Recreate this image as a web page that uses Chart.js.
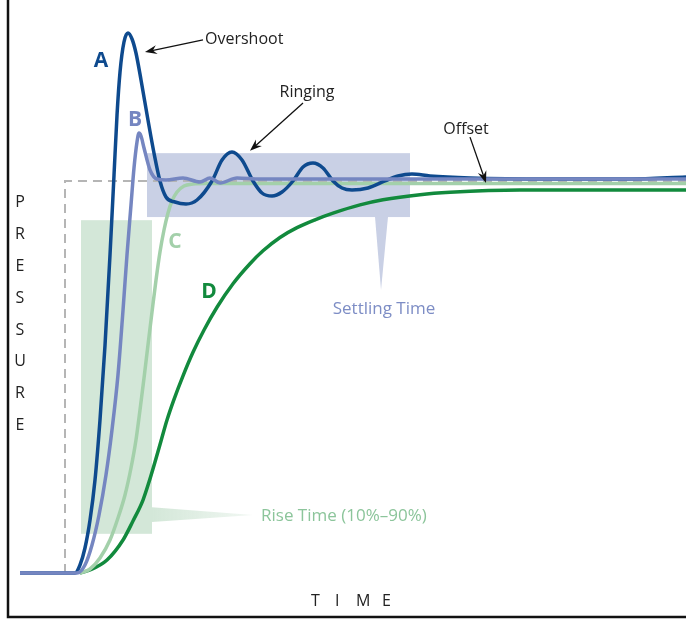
<!DOCTYPE html>
<html lang="en">
<head>
    <meta charset="UTF-8">
    <title>Pressure response</title>
    <script src="https://cdn.jsdelivr.net/npm/chart.js"></script>
    <style>
        body {
            margin: 0;
            padding: 0;
            background-color: #fff;
        }
        #chart {
            display: block;
        }
    </style>
</head>
<body>
    <canvas id="chart" width="686" height="619"></canvas>
    <script>
        // time: 0 = pressure step, pressure: 0 = start, 1 = setpoint
        const curveA = [
            [-7.5, 0], [1.67, 0], [2.5, 0.0204], [3.33, 0.0638], [4.17, 0.1352], [5.0, 0.2372],
            [5.83, 0.3903], [6.67, 0.5816], [7.5, 0.8112], [8.17, 1.0153], [8.67, 1.1684], [9.17, 1.2781],
            [9.83, 1.3546], [10.5, 1.3776], [11.17, 1.3622], [11.83, 1.3265], [12.67, 1.2577], [13.83, 1.1556],
            [14.83, 1.0714], [15.83, 1.0], [16.83, 0.9592], [18.33, 0.9464], [20.17, 0.9413], [22.0, 0.9515],
            [24.5, 1.0], [26.17, 1.0536], [27.83, 1.074], [29.5, 1.0536], [31.33, 1.0], [32.83, 0.9694],
            [34.5, 0.9617], [36.17, 0.9719], [38.0, 1.0], [39.67, 1.0357], [41.33, 1.0459], [43.0, 1.0332],
            [44.67, 1.0], [46.17, 0.9821], [47.83, 0.977], [50.5, 0.9821], [53.33, 1.0], [55.5, 1.0128],
            [57.83, 1.0179], [60.83, 1.0128], [67.5, 1.0077], [80.83, 1.0051], [94.17, 1.0051], [103.5, 1.0102]
        ];
        const curveB = [
            [-7.5, 0], [2.0, 0], [3.33, 0.0204], [4.5, 0.0714], [5.67, 0.148], [6.83, 0.25],
            [7.83, 0.3648], [8.83, 0.5051], [9.67, 0.6709], [10.33, 0.8112], [11.0, 0.9388], [11.5, 1.0332],
            [12.0, 1.0995], [12.33, 1.1224], [12.67, 1.1148], [13.17, 1.0842], [14.17, 1.0281], [15.33, 1.0051],
            [16.83, 1.0026], [19.67, 1.0077], [22.5, 0.9974], [24.17, 1.0077], [25.83, 0.9949], [28.67, 1.0077],
            [32.5, 1.0051], [103.5, 1.0051]
        ];
        const curveC = [
            [2.5, 0], [4.17, 0.0102], [5.83, 0.0383], [7.5, 0.0842], [8.83, 0.1403], [10.0, 0.199],
            [11.0, 0.2679], [11.83, 0.3393], [12.5, 0.4158], [13.17, 0.4974], [13.83, 0.5816], [14.5, 0.6658],
            [15.17, 0.7474], [15.83, 0.8189], [16.5, 0.875], [17.17, 0.9184], [17.83, 0.949], [18.67, 0.9719],
            [19.83, 0.9872], [21.33, 0.9923], [23.33, 0.9936], [103.5, 0.9936]
        ];
        const curveD = [
            [2.5, 0], [4.17, 0.0077], [7.0, 0.0332], [9.67, 0.0842], [11.33, 0.1327], [13.0, 0.1862],
            [14.0, 0.2321], [15.0, 0.2832], [16.0, 0.3367], [17.0, 0.3903], [18.17, 0.443], [19.67, 0.503],
            [21.33, 0.563], [23.17, 0.62], [25.33, 0.678], [28.0, 0.738], [30.83, 0.789], [33.0, 0.822],
            [35.83, 0.856], [38.67, 0.881], [41.67, 0.901], [44.67, 0.918], [49.17, 0.939], [53.0, 0.952],
            [59.17, 0.965], [64.17, 0.971], [75.83, 0.977], [103.5, 0.977]
        ];
        const stepLine = [[0, 0], [0, 1], [103.5, 1]];

        const curveLabels = ['A', 'B', 'C', 'D'];
        const riseBand = { t0: 2.67, t1: 14.5, p0: 0.1, p1: 0.9 };
        const settleBand = { t0: 13.67, t1: 57.5, p0: 0.908, p1: 1.071 };
        const pressureLetters = ['P', 'R', 'E', 'S', 'S', 'U', 'R', 'E'];
        const timeLetters = ['T', 'I', 'M', 'E'];

        const colA = '#0e4a8e';
        const colB = '#7586c1';
        const colC = '#a3d0aa';
        const colD = '#128a3d';

        function pts(arr) {
            return arr.map(p => ({ x: p[0], y: p[1] }));
        }

        function line(data, color) {
            return {
                data: pts(data),
                borderColor: color,
                borderWidth: 3.5,
                pointRadius: 0,
                cubicInterpolationMode: 'monotone',
                fill: false
            };
        }

        function arrow(ctx, x1, y1, x2, y2) {
            const a = Math.atan2(y2 - y1, x2 - x1);
            const c = Math.cos(a), s = Math.sin(a);
            ctx.strokeStyle = '#111';
            ctx.fillStyle = '#111';
            ctx.lineWidth = 1.3;
            ctx.beginPath();
            ctx.moveTo(x1, y1);
            ctx.lineTo(x2 - 6 * c, y2 - 6 * s);
            ctx.stroke();
            ctx.beginPath();
            ctx.moveTo(x2, y2);
            ctx.lineTo(x2 - 12 * c + 4.5 * s, y2 - 12 * s - 4.5 * c);
            ctx.lineTo(x2 - 8 * c, y2 - 8 * s);
            ctx.lineTo(x2 - 12 * c - 4.5 * s, y2 - 12 * s + 4.5 * c);
            ctx.closePath();
            ctx.fill();
        }

        const bands = {
            id: 'bands',
            beforeDatasetsDraw(chart) {
                const ctx = chart.ctx;
                const X = v => chart.scales.x.getPixelForValue(v);
                const Y = v => chart.scales.y.getPixelForValue(v);
                ctx.save();
                // rise time band + pointer
                ctx.fillStyle = '#d3e7d8';
                ctx.fillRect(X(riseBand.t0), Y(riseBand.p1), X(riseBand.t1) - X(riseBand.t0), Y(riseBand.p0) - Y(riseBand.p1));
                const g = ctx.createLinearGradient(X(riseBand.t1), 0, X(31.33), 0);
                g.addColorStop(0, '#d3e7d8');
                g.addColorStop(1, 'rgba(211,231,216,0.3)');
                ctx.fillStyle = g;
                ctx.beginPath();
                ctx.moveTo(X(riseBand.t1), Y(0.168));
                ctx.lineTo(X(31.33), Y(0.148));
                ctx.lineTo(X(riseBand.t1), Y(0.13));
                ctx.closePath();
                ctx.fill();
                // settling band + pointer
                ctx.fillStyle = '#c9d0e5';
                ctx.fillRect(X(settleBand.t0), Y(settleBand.p1), X(settleBand.t1) - X(settleBand.t0), Y(settleBand.p0) - Y(settleBand.p1));
                ctx.beginPath();
                ctx.moveTo(X(51.67), Y(settleBand.p0));
                ctx.lineTo(X(52.67), Y(0.722));
                ctx.lineTo(X(53.83), Y(settleBand.p0));
                ctx.closePath();
                ctx.fill();
                ctx.restore();
            },
            afterDraw(chart) {
                const ctx = chart.ctx;
                const area = chart.chartArea;
                const X = v => chart.scales.x.getPixelForValue(v);
                const Y = v => chart.scales.y.getPixelForValue(v);
                ctx.save();
                // axes
                ctx.strokeStyle = '#111';
                ctx.lineWidth = 2.5;
                ctx.beginPath();
                ctx.moveTo(area.left, 0);
                ctx.lineTo(area.left, area.bottom);
                ctx.lineTo(area.right, area.bottom);
                ctx.stroke();

                ctx.textBaseline = 'middle';
                ctx.textAlign = 'center';
                ctx.font = 'bold 21px "Open Sans", sans-serif';
                const labelPos = [[6.0, 1.306, colA], [11.67, 1.156, colB], [18.33, 0.844, colC], [24.0, 0.717, colD]];
                curveLabels.forEach((l, i) => {
                    ctx.fillStyle = labelPos[i][2];
                    ctx.fillText(l, X(labelPos[i][0]), Y(labelPos[i][1]));
                });

                ctx.font = '16px "Open Sans", sans-serif';
                ctx.fillStyle = '#222';
                ctx.textAlign = 'left';
                ctx.fillText('Overshoot', X(23.33), Y(1.36));
                ctx.textAlign = 'center';
                ctx.fillText('Ringing', X(40.33), Y(1.225));
                ctx.fillText('Offset', X(66.83), Y(1.132));
                arrow(ctx, X(23.0), Y(1.36), X(13.33), Y(1.329));
                arrow(ctx, X(39.67), Y(1.199), X(30.83), Y(1.077));
                arrow(ctx, X(67.5), Y(1.112), X(70.17), Y(0.995));

                ctx.font = '17px "Open Sans", sans-serif';
                ctx.fillStyle = '#7d8dc5';
                ctx.fillText('Settling Time', X(53.17), Y(0.674));
                ctx.fillStyle = '#8cc59b';
                ctx.textAlign = 'left';
                ctx.fillText('Rise Time (10%\u201390%)', X(32.67), Y(0.146));

                ctx.fillStyle = '#222';
                ctx.textAlign = 'center';
                ctx.font = '16px "Open Sans", sans-serif';
                pressureLetters.forEach((l, i) => {
                    ctx.fillText(l, X(-7.5), Y(0.946 - i * 0.0815));
                });
                ctx.textAlign = 'left';
                const timeAt = [41.0, 45.0, 48.5, 52.83];
                timeLetters.forEach((l, i) => {
                    ctx.fillText(l, X(timeAt[i]), Y(-0.073));
                });
                ctx.restore();
            }
        };

        new Chart(document.getElementById('chart'), {
            type: 'line',
            data: {
                datasets: [
                    line(curveB, colB),
                    line(curveA, colA),
                    line(curveC, colC),
                    line(curveD, colD),
                    {
                        data: pts(stepLine),
                        borderColor: '#b5b5b5',
                        borderWidth: 2,
                        borderDash: [9, 6],
                        pointRadius: 0,
                        tension: 0
                    }
                ]
            },
            options: {
                responsive: false,
                animation: false,
                layout: { padding: { left: 8, right: 0, top: 0, bottom: 2 } },
                plugins: { legend: { display: false }, tooltip: { enabled: false } },
                scales: {
                    x: { type: 'linear', min: -9.5, max: 103.5, display: false },
                    y: { type: 'linear', min: -0.1122, max: 1.4617, display: false }
                }
            },
            plugins: [bands]
        });
    </script>
</body>
</html>
